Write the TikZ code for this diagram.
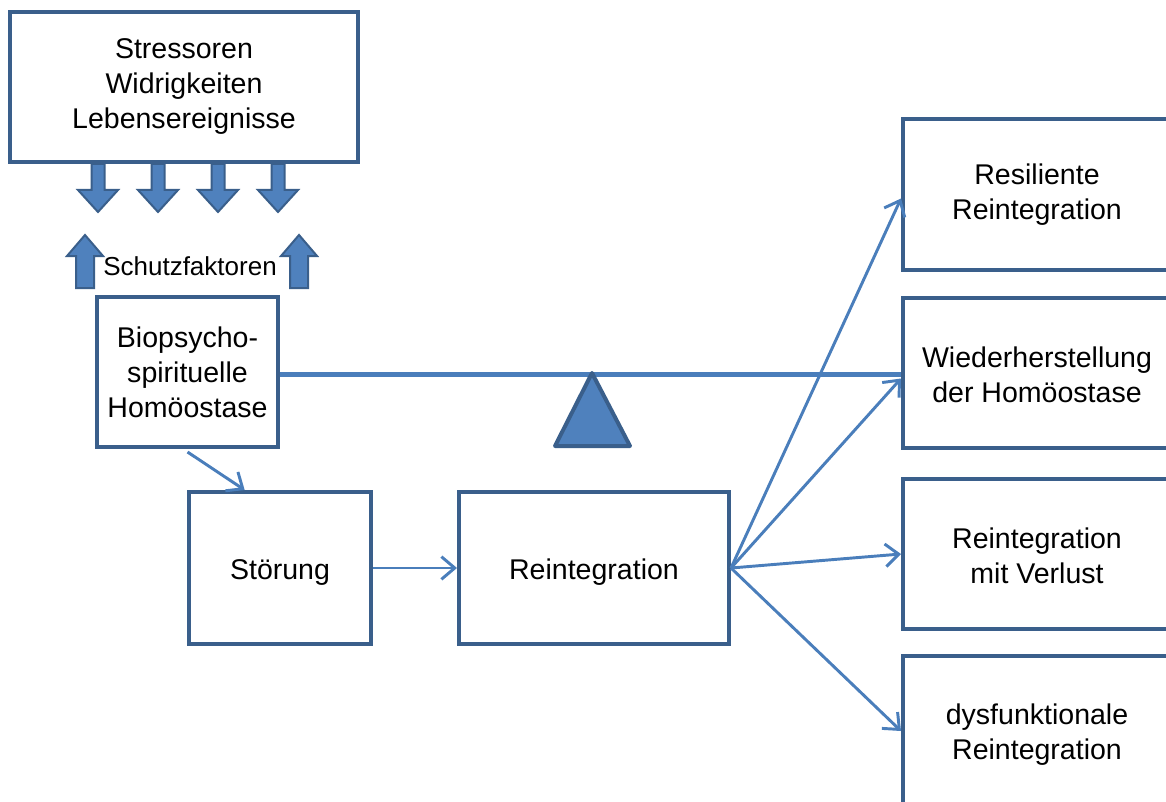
\documentclass[tikz,border=0pt]{standalone}
\usepackage{fontspec}
\setmainfont{Liberation Sans}
\usetikzlibrary{arrows.meta,calc}
\definecolor{boxline}{HTML}{3A5F8B}
\definecolor{arrowfill}{HTML}{4F81BD}
\definecolor{conn}{HTML}{4A7EBB}
\newcommand{\lowertext}[2]{\raisebox{-#1}[\height][\depth]{#2}}
\tikzset{
  box/.style={draw=boxline,line width=3pt,fill=white,inner sep=0pt,align=center,
    font=\fontsize{21.4}{26.25}\selectfont},
  conarrow/.style={draw=conn,line width=2.2pt,-{Straight Barb[length=10pt,width=17pt,line width=2.2pt]}},
  blockarrow/.style={fill=arrowfill,draw=boxline,line width=1.5pt,line join=miter},
}
\begin{document}
\begin{tikzpicture}[x=0.75pt,y=-0.75pt]
\useasboundingbox (0,0) rectangle (1166,802);
% left column
\node[box,minimum width=261pt,minimum height=112.5pt] (stress) at (184,87) {Stressoren\\Widrigkeiten\\Lebensereignisse};
\node[box,minimum width=135.75pt,minimum height=112.5pt] (bio) at (187.5,372) {Biopsycho-\\spirituelle\\Homöostase};
\node[box,minimum width=136.5pt,minimum height=114pt] (stoer) at (280,568) {\lowertext{3pt}{Störung}};
\node[box,minimum width=202.5pt,minimum height=114pt] (reint) at (594,568) {\lowertext{3pt}{Reintegration}};
% right column
\node[box,minimum width=201pt,minimum height=112.5pt] (r1) at (1037,194.5) {Resiliente\\Reintegration};
\node[box,minimum width=201pt,minimum height=112.5pt] (r2) at (1037,372.5) {\lowertext{1.5pt}{Wiederherstellung}\\\lowertext{1.5pt}{der Homöostase}};
\node[box,minimum width=201pt,minimum height=112.5pt] (r3) at (1037,554) {\lowertext{1pt}{Reintegration}\\\lowertext{1pt}{mit Verlust}};
\node[box,minimum width=201pt,minimum height=112.5pt] (r4) at (1037,731) {\lowertext{3pt}{dysfunktionale}\\\lowertext{3pt}{Reintegration}};
% Schutzfaktoren
\node[font=\fontsize{19.5}{23}\selectfont,inner sep=0pt] (schutz) at (190,266) {Schutzfaktoren};
% down block arrows
\foreach \cx in {98,158,218,278}{
  \draw[blockarrow] (\cx-6.5,164) -- (\cx+6.5,164) -- (\cx+6.5,190) -- (\cx+20,190) -- (\cx,212) -- (\cx-20,190) -- (\cx-6.5,190) -- cycle;
}
% up block arrows
\foreach \cx in {85,299}{
  \draw[blockarrow] (\cx-9,288) -- (\cx+9,288) -- (\cx+9,256) -- (\cx+18,256) -- (\cx,235) -- (\cx-18,256) -- (\cx-9,256) -- cycle;
}
% balance beam and fulcrum
\draw[conn,line width=3.75pt] (bio.east |- 0,374) -- (r2.west |- 0,374);
\draw[fill=arrowfill,draw=boxline,line width=3pt,line join=round] (592,373) -- (630,446) -- (555,446) -- cycle;
% connectors
\draw[conarrow] ($(bio.south)+(0,3)$) -- ($(stoer.north west)!0.31!(stoer.north east)$);
\draw[conarrow] (stoer.east) -- (reint.west);
\draw[conarrow] (reint.east) -- ($(r1.west)+(0,4)$);
\draw[conarrow] (reint.east) -- ($(r2.west)+(0,6)$);
\draw[conarrow] (reint.east) -- (r3.west);
\draw[conarrow] (reint.east) -- (r4.west);
\end{tikzpicture}
\end{document}
